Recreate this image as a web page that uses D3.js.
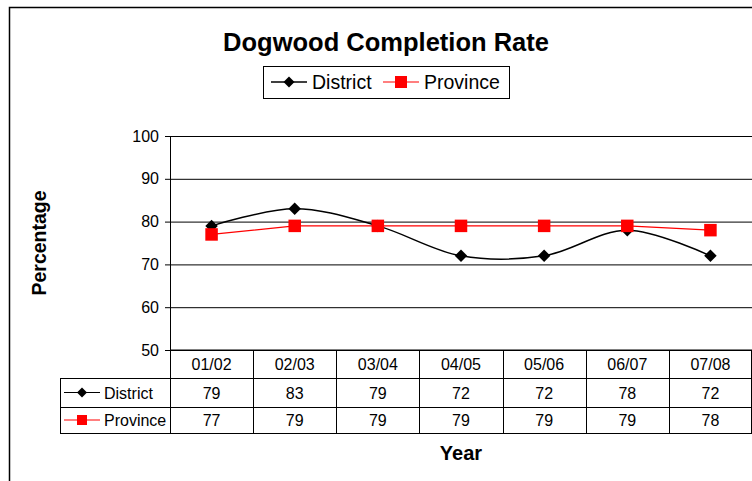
<!DOCTYPE html>
<html>
<head>
<meta charset="utf-8">
<script src="https://cdn.jsdelivr.net/npm/d3@7"></script>
<style>
  body { margin: 0; background: #fff; }
  text { font-family: "Liberation Sans", Arial, sans-serif; }
</style>
</head>
<body>
<div id="painting"></div>
<script>
// chart data
var years = ["01/02", "02/03", "03/04", "04/05", "05/06", "06/07", "07/08"];
var district = [79, 83, 79, 72, 72, 78, 72];
var province = [77, 79, 79, 79, 79, 79, 78];
var yTicks = [50, 60, 70, 80, 90, 100];

var series = [
  {name: "District", values: district, colour: "#000000", marker: "diamond", curve: d3.curveCatmullRom.alpha(0.5), width: 1.5},
  {name: "Province", values: province, colour: "#FF0000", marker: "square", curve: d3.curveLinear, width: 1.2}
];

var W = 752, H = 481;
var plot = {left: 170, right: 752, top: 136, bottom: 350};
var rowH = [28, 29, 26];

var svg = d3.select("#painting").append("svg")
  .attr("width", W).attr("height", H);

// outer chart border
svg.append("rect")
  .attr("x", 9.5).attr("y", 7.5)
  .attr("width", W + 20).attr("height", H + 20)
  .attr("fill", "none").attr("stroke", "#000").attr("stroke-width", 1.5);

svg.append("text")
  .attr("x", 386).attr("y", 51)
  .attr("text-anchor", "middle")
  .style("font-size", "25.5px").style("font-weight", "bold")
  .text("Dogwood Completion Rate");

var xScale = d3.scaleBand().domain(years).range([plot.left, plot.right]);
var yScale = d3.scaleLinear().domain([50, 100]).range([plot.bottom, plot.top]);

// gridlines
svg.append("g")
  .attr("transform", "translate(" + plot.left + ",0)")
  .call(d3.axisLeft(yScale).tickValues(yTicks).tickSize(-(plot.right - plot.left)).tickFormat(""))
  .call(function(g) {
    g.select(".domain").remove();
    g.selectAll("line").attr("stroke", "#000").attr("stroke-width", 1);
  });

// y axis
svg.append("g")
  .attr("transform", "translate(" + plot.left + ",0)")
  .call(d3.axisLeft(yScale).tickValues(yTicks).tickSize(5).tickPadding(6).tickSizeOuter(0))
  .call(function(g) {
    g.select(".domain").attr("stroke", "#000");
    g.selectAll("text").style("font-size", "16px").attr("fill", "#000");
  });

svg.append("text")
  .attr("transform", "translate(46,243) rotate(-90)")
  .attr("text-anchor", "middle")
  .style("font-size", "19.5px").style("font-weight", "bold")
  .text("Percentage");

// sz = full width of the marker
function drawMarker(g, type, colour, x, y, sz) {
  var h = sz / 2;
  if (type === "diamond") {
    g.append("path")
      .attr("d", "M" + x + "," + (y - h) + "L" + (x + h) + "," + y + "L" + x + "," + (y + h) + "L" + (x - h) + "," + y + "Z")
      .attr("fill", colour);
  } else {
    g.append("rect")
      .attr("x", x - h).attr("y", y - h)
      .attr("width", sz).attr("height", sz)
      .attr("fill", colour);
  }
}

// lines
series.forEach(function(s) {
  var line = d3.line()
    .x(function(d, i) { return xScale(years[i]) + xScale.bandwidth() / 2; })
    .y(function(d) { return yScale(d); })
    .curve(s.curve);
  svg.append("path")
    .datum(s.values)
    .attr("d", line)
    .attr("fill", "none")
    .attr("stroke", s.colour)
    .attr("stroke-width", s.width);
});
series.forEach(function(s) {
  var g = svg.append("g");
  s.values.forEach(function(v, i) {
    drawMarker(g, s.marker, s.colour, xScale(years[i]) + xScale.bandwidth() / 2, yScale(v), s.marker === "diamond" ? 12.5 : 12.5);
  });
});

// legend
var leg = svg.append("g");
leg.append("rect")
  .attr("x", 263.5).attr("y", 66.5).attr("width", 246).attr("height", 32)
  .attr("fill", "#fff").attr("stroke", "#000");
var legX = [271, 383];
series.forEach(function(s, i) {
  var x0 = legX[i];
  leg.append("line")
    .attr("x1", x0).attr("x2", x0 + 36).attr("y1", 82).attr("y2", 82)
    .attr("stroke", s.colour).attr("stroke-width", s.width);
  drawMarker(leg, s.marker, s.colour, x0 + 18, 82, s.marker === "diamond" ? 11 : 12);
  leg.append("text")
    .attr("x", x0 + 41).attr("y", 89)
    .style("font-size", "19.5px")
    .text(s.name);
});

// data table
var tbl = svg.append("g");
var yRow = [plot.bottom, plot.bottom + rowH[0], plot.bottom + rowH[0] + rowH[1], plot.bottom + rowH[0] + rowH[1] + rowH[2]];
var tableLeft = 60;

// horizontal lines
tbl.append("line").attr("x1", plot.left).attr("x2", plot.right).attr("y1", yRow[0]).attr("y2", yRow[0]).attr("stroke", "#000");
[1, 2, 3].forEach(function(r) {
  tbl.append("line").attr("x1", tableLeft).attr("x2", plot.right).attr("y1", yRow[r] + 0.5).attr("y2", yRow[r] + 0.5).attr("stroke", "#000");
});
// vertical lines
years.forEach(function(y) {
  var x = Math.round(xScale(y)) + 0.5;
  tbl.append("line").attr("x1", x).attr("x2", x).attr("y1", yRow[0]).attr("y2", yRow[3]).attr("stroke", "#000");
});
tbl.append("line").attr("x1", tableLeft + 0.5).attr("x2", tableLeft + 0.5).attr("y1", yRow[1]).attr("y2", yRow[3]).attr("stroke", "#000");
tbl.append("line").attr("x1", plot.right - 0.5).attr("x2", plot.right - 0.5).attr("y1", yRow[0]).attr("y2", yRow[3]).attr("stroke", "#000");

years.forEach(function(y) {
  tbl.append("text")
    .attr("x", xScale(y) + xScale.bandwidth() / 2).attr("y", yRow[0] + 20)
    .attr("text-anchor", "middle").style("font-size", "16px")
    .text(y);
});
series.forEach(function(s, r) {
  var cy = (yRow[r + 1] + yRow[r + 2]) / 2;
  tbl.append("line")
    .attr("x1", 64).attr("x2", 100).attr("y1", cy).attr("y2", cy)
    .attr("stroke", s.colour).attr("stroke-width", 1.2);
  drawMarker(tbl, s.marker, s.colour, 82, cy, 10);
  tbl.append("text")
    .attr("x", 104).attr("y", cy + 6)
    .style("font-size", "16px")
    .text(s.name);
  s.values.forEach(function(v, i) {
    tbl.append("text")
      .attr("x", xScale(years[i]) + xScale.bandwidth() / 2).attr("y", cy + 6)
      .attr("text-anchor", "middle").style("font-size", "16px")
      .text(v);
  });
});

svg.append("text")
  .attr("x", 461).attr("y", 460)
  .attr("text-anchor", "middle")
  .style("font-size", "20px").style("font-weight", "bold")
  .text("Year");
</script>
</body>
</html>
